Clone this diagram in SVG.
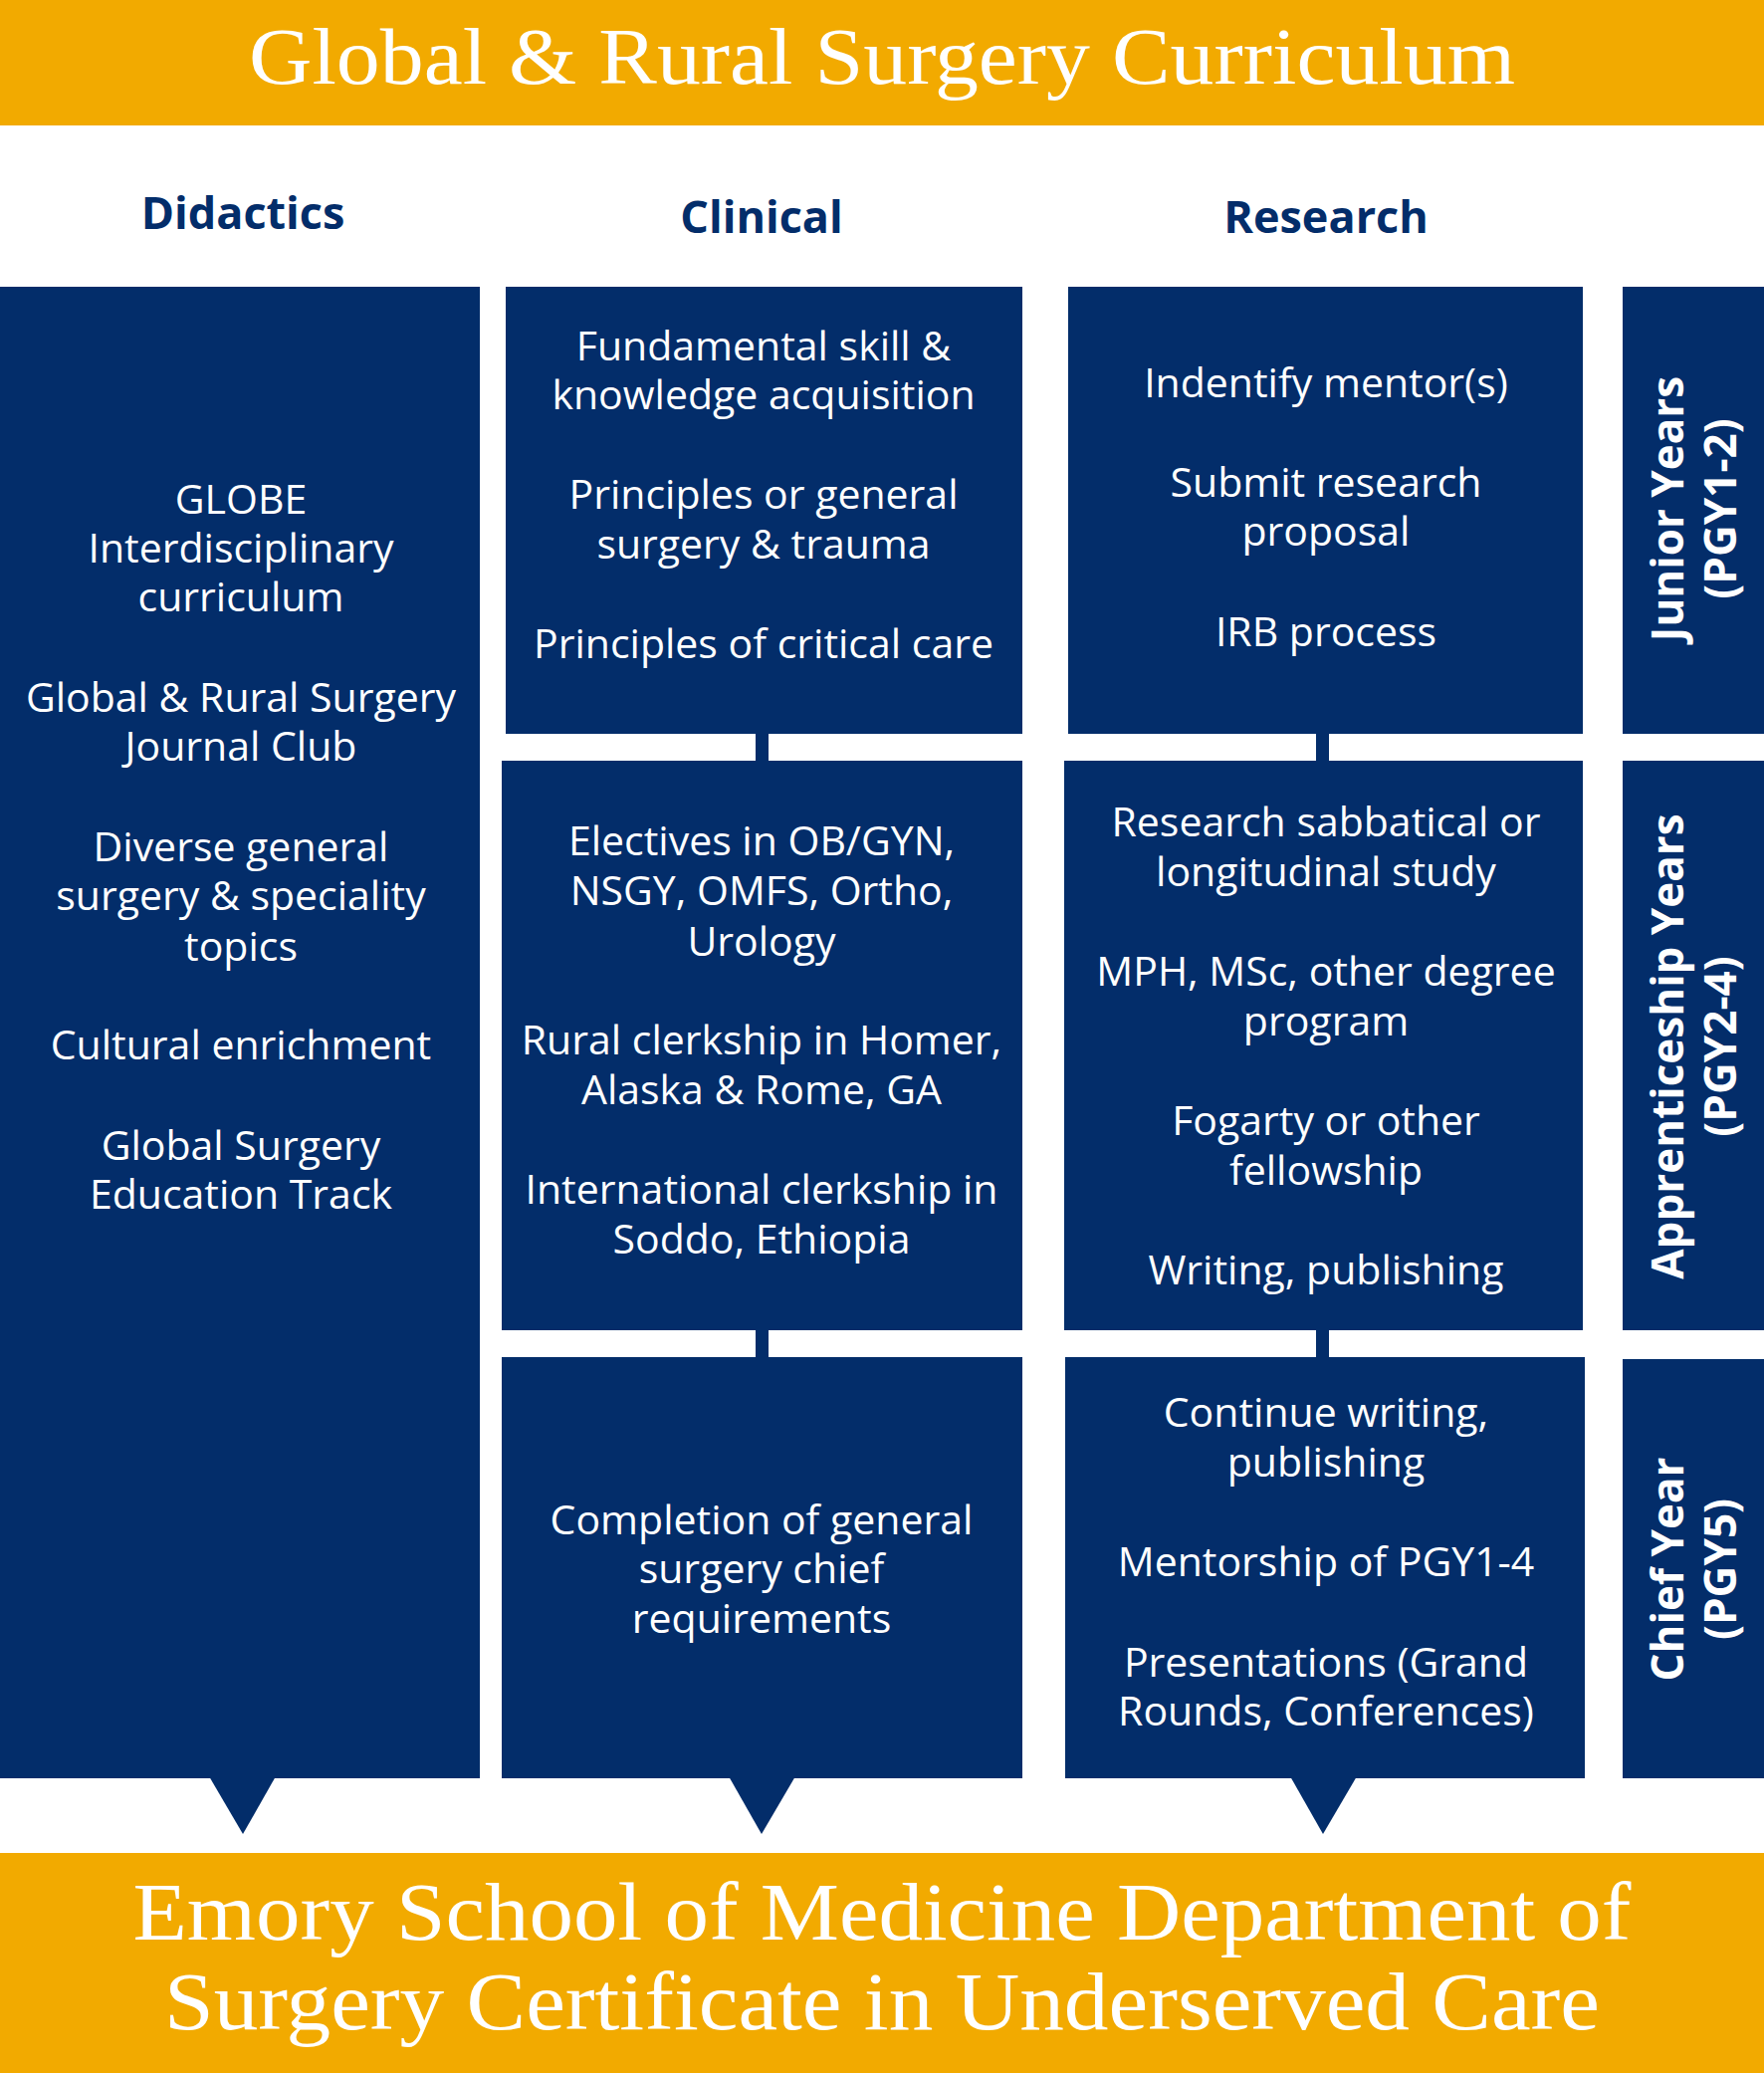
<svg xmlns="http://www.w3.org/2000/svg" width="1772" height="2082" viewBox="0 0 1772 2082">
<style>
.bar{fill:#F2AA00}
.nv{fill:#032D6A}
.ttl{font-family:"Liberation Serif",serif;fill:#fff;text-anchor:middle}
.hd{font-family:"Open Sans","Noto Sans",sans-serif;font-weight:bold;font-size:45px;fill:#032D6A;text-anchor:middle;dominant-baseline:central}
.t{font-family:"Open Sans","Noto Sans",sans-serif;font-size:41px;fill:#fff;text-anchor:middle;dominant-baseline:central}
.yr{font-family:"Open Sans","Noto Sans",sans-serif;font-weight:bold;font-size:44px;fill:#fff;text-anchor:middle;dominant-baseline:central}
</style>
<rect width="1772" height="2082" fill="#fff"/>
<g id="title"><rect class="bar" x="0" y="0" width="1772" height="126"/>
<text class="ttl" x="886" y="84" font-size="80" textLength="1272" lengthAdjust="spacingAndGlyphs">Global &amp; Rural Surgery Curriculum</text></g>
<g id="headers">
<text class="hd" x="244" y="212">Didactics</text>
<text class="hd" x="765" y="216">Clinical</text>
<text class="hd" x="1332" y="216">Research</text></g>
<g id="connectors">
<rect class="nv" x="759" y="730" width="13" height="40"/>
<rect class="nv" x="759" y="1330" width="13" height="38"/>
<rect class="nv" x="1322" y="730" width="13" height="40"/>
<rect class="nv" x="1322" y="1330" width="13" height="38"/>
<polygon class="nv" points="210,1784 277,1784 244,1842"/>
<polygon class="nv" points="732,1784 799,1784 765,1842"/>
<polygon class="nv" points="1296,1784 1363,1784 1329,1842"/>
</g>
<g id="didactics"><rect class="nv" x="0" y="288" width="482" height="1498"/>
<text class="t" x="242"><tspan x="242" y="500">GLOBE</tspan><tspan x="242" y="549">Interdisciplinary</tspan><tspan x="242" y="598">curriculum</tspan><tspan x="242" y="699">Global &amp; Rural Surgery</tspan><tspan x="242" y="748">Journal Club</tspan><tspan x="242" y="849">Diverse general</tspan><tspan x="242" y="898">surgery &amp; speciality</tspan><tspan x="242" y="949">topics</tspan><tspan x="242" y="1048">Cultural enrichment</tspan><tspan x="242" y="1149">Global Surgery</tspan><tspan x="242" y="1198">Education Track</tspan></text></g>
<g id="clinical1"><rect class="nv" x="508" y="288" width="519" height="449"/>
<text class="t"><tspan x="767" y="346">Fundamental skill &amp;</tspan><tspan x="767" y="395">knowledge acquisition</tspan><tspan x="767" y="495">Principles or general</tspan><tspan x="767" y="545">surgery &amp; trauma</tspan><tspan x="767" y="645">Principles of critical care</tspan></text></g>
<g id="clinical2"><rect class="nv" x="504" y="764" width="523" height="572"/>
<text class="t"><tspan x="765" y="843">Electives in OB/GYN,</tspan><tspan x="765" y="893">NSGY, OMFS, Ortho,</tspan><tspan x="765" y="944">Urology</tspan><tspan x="765" y="1043">Rural clerkship in Homer,</tspan><tspan x="765" y="1093">Alaska &amp; Rome, GA</tspan><tspan x="765" y="1193">International clerkship in</tspan><tspan x="765" y="1243">Soddo, Ethiopia</tspan></text></g>
<g id="clinical3"><rect class="nv" x="504" y="1363" width="523" height="423"/>
<text class="t"><tspan x="765" y="1525">Completion of general</tspan><tspan x="765" y="1574">surgery chief</tspan><tspan x="765" y="1624">requirements</tspan></text></g>
<g id="research1"><rect class="nv" x="1073" y="288" width="517" height="449"/>
<text class="t"><tspan x="1332" y="383">Indentify mentor(s)</tspan><tspan x="1332" y="483">Submit research</tspan><tspan x="1332" y="532">proposal</tspan><tspan x="1332" y="633">IRB process</tspan></text></g>
<g id="research2"><rect class="nv" x="1069" y="764" width="521" height="572"/>
<text class="t"><tspan x="1332" y="824">Research sabbatical or</tspan><tspan x="1332" y="874">longitudinal study</tspan><tspan x="1332" y="974">MPH, MSc, other degree</tspan><tspan x="1332" y="1024">program</tspan><tspan x="1332" y="1124">Fogarty or other</tspan><tspan x="1332" y="1174">fellowship</tspan><tspan x="1332" y="1274">Writing, publishing</tspan></text></g>
<g id="research3"><rect class="nv" x="1070" y="1363" width="522" height="423"/>
<text class="t"><tspan x="1332" y="1417">Continue writing,</tspan><tspan x="1332" y="1467">publishing</tspan><tspan x="1332" y="1567">Mentorship of PGY1-4</tspan><tspan x="1332" y="1668">Presentations (Grand</tspan><tspan x="1332" y="1717">Rounds, Conferences)</tspan></text></g>
<g id="junior"><rect class="nv" x="1630" y="288" width="142" height="449"/>
<text class="yr" transform="translate(1674,511) rotate(-90)">Junior Years</text>
<text class="yr" transform="translate(1727,511) rotate(-90)">(PGY1-2)</text></g>
<g id="apprentice"><rect class="nv" x="1630" y="764" width="142" height="572"/>
<text class="yr" transform="translate(1674,1051) rotate(-90)">Apprenticeship Years</text>
<text class="yr" transform="translate(1727,1051) rotate(-90)">(PGY2-4)</text></g>
<g id="chief"><rect class="nv" x="1630" y="1365" width="142" height="421"/>
<text class="yr" transform="translate(1674,1576) rotate(-90)">Chief Year</text>
<text class="yr" transform="translate(1727,1576) rotate(-90)">(PGY5)</text></g>
<g id="footer"><rect class="bar" x="0" y="1861" width="1772" height="221"/>
<text class="ttl" font-size="82" x="886" y="1948" textLength="1505" lengthAdjust="spacingAndGlyphs">Emory School of Medicine Department of</text>
<text class="ttl" font-size="82" x="886" y="2038" textLength="1442" lengthAdjust="spacingAndGlyphs">Surgery Certificate in Underserved Care</text></g>
</svg>
